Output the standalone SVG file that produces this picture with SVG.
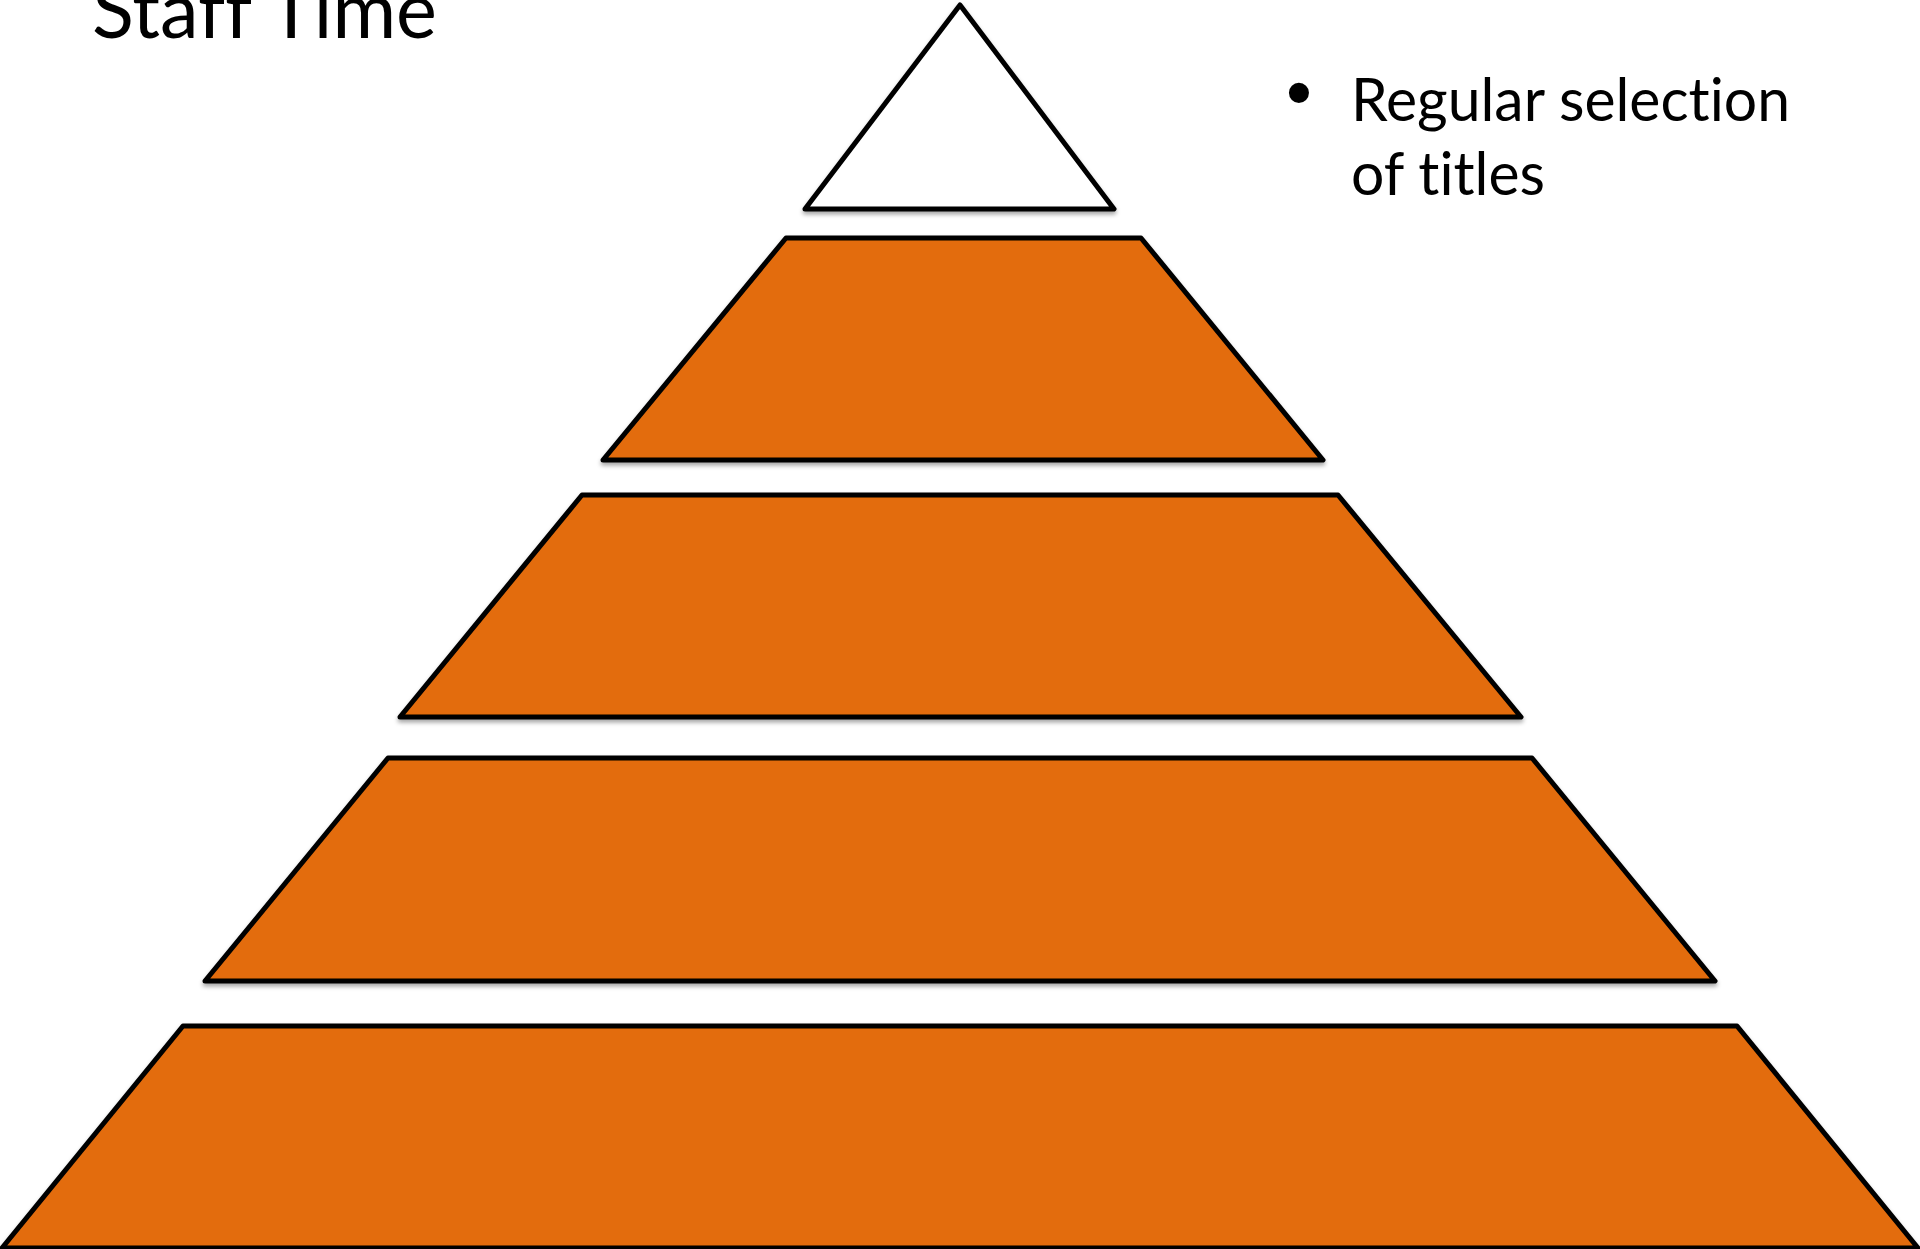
<svg xmlns="http://www.w3.org/2000/svg" width="1920" height="1249" viewBox="0 0 1920 1249">
<defs>
<style>
.tier{stroke:#000;stroke-width:5;stroke-linejoin:round;filter:url(#sh)}
.orange{fill:#E36C0A}
.white{fill:#fff}
.t{font-family:Lato,"Open Sans","Liberation Sans",sans-serif;fill:#000;font-variant-ligatures:none;font-feature-settings:"liga" 0,"clig" 0}
</style>
<filter id="sh" x="-5%" y="-5%" width="110%" height="115%">
<feDropShadow dx="0" dy="3" stdDeviation="2" flood-color="#000" flood-opacity="0.35"/>
</filter>
</defs>
<rect width="1920" height="1249" fill="#fff"/>
<g id="title"><text class="t" x="92" y="38" font-size="80" textLength="345" lengthAdjust="spacingAndGlyphs">Staff Time</text></g>
<g id="tier1"><polygon class="tier white" points="960,5 1114,209 805,209"/></g>
<g id="tier2"><polygon class="tier orange" points="786,238 1141,238 1323,460 603,460"/></g>
<g id="tier3"><polygon class="tier orange" points="582,495 1338,495 1521,717 400,717"/></g>
<g id="tier4"><polygon class="tier orange" points="388,758 1532,758 1715,981 205,981"/></g>
<g id="tier5"><polygon class="tier orange" points="183,1026 1737,1026 1918,1248 2,1248"/></g>
<g id="bullet">
<text x="1286" y="118" font-family="'Liberation Sans',Arial,sans-serif" font-size="74">•</text>
<text class="t" x="1351" y="121" font-size="60" textLength="439" lengthAdjust="spacingAndGlyphs">Regular selection</text>
<text class="t" x="1351" y="195" font-size="60" textLength="194" lengthAdjust="spacingAndGlyphs">of titles</text>
</g>
<g id="connectors"></g>
</svg>
